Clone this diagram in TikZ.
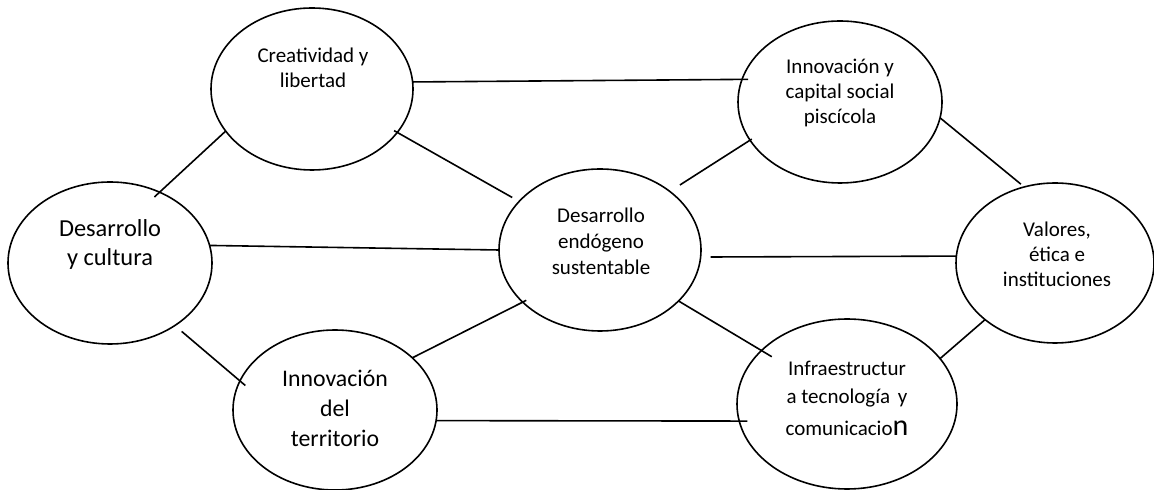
\documentclass[tikz,border=0pt]{standalone}
\usepackage{fontspec}
\setmainfont{Carlito}
\usetikzlibrary{shapes.geometric}
\begin{document}
\begin{tikzpicture}[x=0.5pt,y=-0.5pt,
  oval/.style={draw, ellipse, line width=0.8pt, inner sep=0pt, outer sep=0pt},
  lbl/.style={align=center, inner sep=0pt, font=\fontsize{10.5}{12.5}\selectfont},
  conn/.style={line width=0.8pt}]
\useasboundingbox (0,0) rectangle (1154,490);
% ellipses
\node[oval, minimum width=101pt, minimum height=81pt] (cre) at (312,89) {};
\node[oval, minimum width=102pt, minimum height=81pt] (cul) at (110,263) {};
\node[oval, minimum width=101pt, minimum height=81pt] (cen) at (600,250) {};
\node[oval, minimum width=102pt, minimum height=81pt] (inn) at (840,102) {};
\node[oval, minimum width=99pt, minimum height=80pt] (val) at (1055,263) {};
\node[oval, minimum width=102pt, minimum height=80pt] (ter) at (335,410) {};
\node[oval, minimum width=110pt, minimum height=85pt] (inf) at (847,404) {};
% texts
\node[lbl] (tcre) at (313,68) {Creatividad y\\libertad};
\node[lbl, font=\fontsize{12.2}{14.5}\selectfont] (tcul) at (110,245) {Desarrollo\\y cultura};
\node[lbl, font=\fontsize{10.5}{13}\selectfont] (tcen) at (601,241) {Desarrollo\\endógeno\\sustentable};
\node[lbl] (tinn) at (840,93) {Innovación y\\capital social\\piscícola};
\node[lbl] (tval) at (1057,254) {Valores,\\ética e\\instituciones};
\node[lbl, font=\fontsize{11.9}{15}\selectfont] (tter) at (335,408) {Innovación\\del\\territorio};
\node[lbl, font=\fontsize{10.5}{14}\selectfont] (tinf) at (847,398) {Infraestructur\\a tecnología\hspace{1.5pt} y\\[2pt]comunicacio{\fontsize{15}{16}\selectfont n}};
% connectors
\draw[conn, shorten <=-3.5pt] (cul.55) -- (cre.206);
\draw[conn, shorten <=-1.8pt, shorten >=4pt] (cre.333) -- (cen.149);
\draw[conn, shorten >=-3pt] (cre.4.5) -- (inn.167);
\draw[conn, shorten <=6pt, shorten >=-1pt] (cen.40.7) -- (inn.203);
\draw[conn, shorten >=2.2pt] (inn.351.6) -- (val.112.4);
\draw[conn] (cul.10) -- (cen.west);
\draw[conn, shorten <=5pt] (cen.-4) -- (val.176.5);
\draw[conn, shorten <=4.5pt, shorten >=-3.5pt] (cul.316.6) -- (ter.163);
\draw[conn, shorten >=-2pt] (ter.34.7) -- (cen.214);
\draw[conn, shorten >=-6pt] (cen.327.2) -- (inf.148.3);
\draw[conn] (inf.26.8) -- (val.219.2);
\draw[conn, shorten >=-4pt] (ter.-6.8) -- (inf.189.5);
\end{tikzpicture}
\end{document}
